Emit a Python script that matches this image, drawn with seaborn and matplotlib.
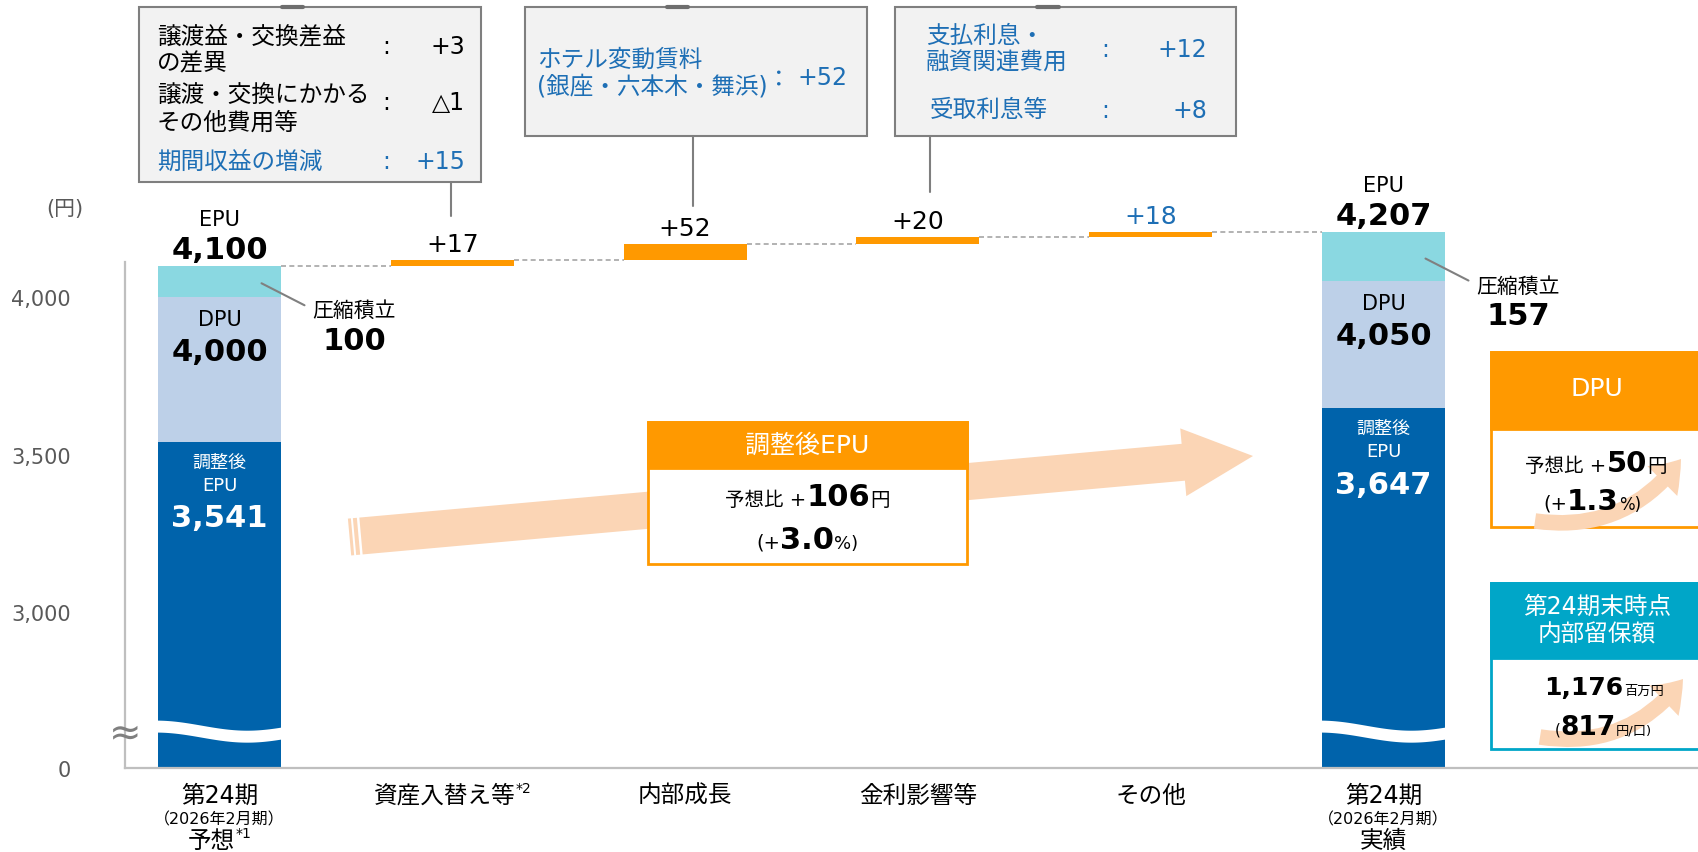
import numpy as np
import pandas as pd
import matplotlib
matplotlib.use("Agg")
import matplotlib.pyplot as plt
from matplotlib.patches import Rectangle, Polygon, FancyArrowPatch
import seaborn as sns

# ---------------- data ----------------
categories = ["第24期予想", "資産入替え等", "内部成長", "金利影響等", "その他", "第24期実績"]
category_titles = ["第24期", "資産入替え等", "内部成長", "金利影響等", "その他", "第24期"]
category_notes = ["*1", "*2", "", "", "", ""]
period_text = "（2026年2月期）"
end_bar_cats = ["第24期予想", "第24期実績"]
end_bar_kind = ["予想", "実績"]
epu_values = [4100, 4207]
dpu_values = [4000, 4050]
adj_epu_values = [3541, 3647]
reserve_values = [100, 157]
step_cats = ["資産入替え等", "内部成長", "金利影響等", "その他"]
step_values = [17, 52, 20, 18]
step_label_colors = ["black", "black", "black", "blue"]
ytick_values = [3000, 3500, 4000]

box1_items = [("譲渡益・交換差益\nの差異", "+3"),
              ("譲渡・交換にかかる\nその他費用等", "△1"),
              ("期間収益の増減", "+15")]
box2_items = [("ホテル変動賃料\n(銀座・六本木・舞浜)", "+52")]
box3_items = [("支払利息・\n融資関連費用", "+12"), ("受取利息等", "+8")]
adj_epu_diff, adj_epu_pct = 106, 3.0
dpu_diff, dpu_pct = 50, 1.3
retained_total, retained_per_unit = 1176, 817

# ---------------- style ----------------
W, H = 1698, 853
sns.set_theme(style="white")
plt.rcParams["font.family"] = ["DejaVu Sans", "Noto Sans CJK JP"]

DBLUE = "#0063AB"; LBLUE = "#BDD0E8"; CYAN = "#8AD8E1"; ORANGE = "#FF9900"
PEACH = "#FBD5B5"; TEAL = "#00A6C8"; TXTBLUE = "#1E6FB5"; GRAY = "#595959"
LINEGRAY = "#7F7F7F"; BOXFILL = "#F2F2F2"
colmap = {"black": "black", "blue": TXTBLUE}

fig = plt.figure(figsize=(W / 100, H / 100), dpi=100)
AX_L, AX_B = 125, 769
ax = fig.add_axes([AX_L / W, (H - AX_B) / H, (W - AX_L) / W, AX_B / H])
renderer = fig.canvas.get_renderer()

bw = 123 / 232.8
YLO, YHI = 2505, 4946

# stacked end bars (drawn as overlapping layers from 0)
df = pd.DataFrame({"cat": end_bar_cats, "epu": epu_values, "dpu": dpu_values, "adj": adj_epu_values})
for col, c in [("epu", CYAN), ("dpu", LBLUE), ("adj", DBLUE)]:
    sns.barplot(data=df, x="cat", y=col, order=categories, color=c, saturation=1,
                width=bw, errorbar=None, linewidth=0, ax=ax)

# waterfall steps
bottoms = np.cumsum([epu_values[0]] + step_values[:-1])
xs = [categories.index(c) for c in step_cats]
ax.bar(xs, step_values, bottom=bottoms, width=bw, color=ORANGE, linewidth=0, zorder=3)

levels = np.cumsum([epu_values[0]] + step_values)
for k, lv in enumerate(levels):
    ax.plot([k + bw / 2, k + 1 - bw / 2], [lv, lv], ls=(0, (3, 2)), color="#A6A6A6", lw=1.2, zorder=2)

ax.set_xlim(-0.406, 6.351)
ax.set_ylim(YLO, YHI)

# axis-break wave
t = np.linspace(0, 1, 80)
for cat in end_bar_cats:
    i = categories.index(cat)
    xx = i - bw / 2 - 0.01 + t * (bw + 0.02)
    c = 2622 + 16 * np.cos(2 * np.pi * 0.7 * t)
    ax.fill_between(xx, c - 19, c + 19, color="white", lw=0, zorder=5)

ax.set_yticks([YLO] + ytick_values)
ax.set_yticklabels(["0"] + [f"{v:,}" for v in ytick_values])
ax.tick_params(axis="y", length=0, pad=39, labelsize=15, labelcolor=GRAY)
ax.set_xticks([])
ax.set_xlabel(""); ax.set_ylabel("")
for s in ["top", "right"]:
    ax.spines[s].set_visible(False)
for s in ["left", "bottom"]:
    ax.spines[s].set_color("#BFBFBF")
    ax.spines[s].set_linewidth(1.6)
ax.spines["left"].set_bounds(YLO, 4110)


# ---------------- helpers ----------------
def P(x, y):
    return x / W, 1 - y / H


def dpx(x, y):
    X, Y = ax.transData.transform((x, y))
    return X, H - Y


def txt(x, y, s, size, color="black", weight="normal", ha="center", va="center", z=6, **kw):
    fx, fy = P(x, y)
    return fig.text(fx, fy, s, fontsize=size, color=color, fontweight=weight,
                    ha=ha, va=va, zorder=z, **kw)


def rich(xc, base, parts, z=6):
    objs, widths = [], []
    for p in parts:
        s, size = p[0], p[1]
        weight = p[2] if len(p) > 2 else "normal"
        color = p[3] if len(p) > 3 else "black"
        rise = p[4] if len(p) > 4 else 0
        tt = fig.text(0, 0, s, fontsize=size, fontweight=weight, color=color,
                      ha="left", va="baseline", zorder=z)
        widths.append(tt.get_window_extent(renderer).width)
        objs.append((tt, rise))
    x = xc - sum(widths) / 2
    for (tt, rise), w in zip(objs, widths):
        tt.set_position(P(x, base - rise))
        x += w


def rect(x0, y0, x1, y1, fc, ec="none", lw=0, z=2):
    r = Rectangle(P(x0, y1), (x1 - x0) / W, (y1 - y0) / H, transform=fig.transFigure,
                  fc=fc, ec=ec, lw=lw, zorder=z)
    fig.add_artist(r)


def line(x0, y0, x1, y1, color=LINEGRAY, lw=1.5, z=2):
    fig.add_artist(plt.Line2D([x0 / W, x1 / W], [1 - y0 / H, 1 - y1 / H],
                              transform=fig.transFigure, color=color, lw=lw, zorder=z))


# ---------------- bar labels ----------------
for k, cat in enumerate(end_bar_cats):
    i = categories.index(cat)
    cx, top = dpx(i, epu_values[k])
    txt(cx, top - 47, "EPU", 15)
    txt(cx, top - 16, f"{epu_values[k]:,}", 22, weight="bold")
    _, dtop = dpx(i, dpu_values[k])
    txt(cx, dtop + 22, "DPU", 15)
    txt(cx, dtop + 54, f"{dpu_values[k]:,}", 22, weight="bold")
    _, atop = dpx(i, adj_epu_values[k])
    txt(cx, atop + 20, "調整後", 13, color="white")
    txt(cx, atop + 43, "EPU", 13, color="white")
    txt(cx, atop + 76, f"{adj_epu_values[k]:,}", 22, weight="bold", color="white")
    _, segc = dpx(i, epu_values[k] - reserve_values[k] / 2)
    line(cx + 42, segc + 2, cx + 85, segc + 24, color="#808080", lw=1.5, z=3)
    txt(cx + 135, segc + 29, "圧縮積立", 15)
    txt(cx + 135, segc + 59, f"{reserve_values[k]}", 22, weight="bold")

for x, b, v, c in zip(xs, bottoms, step_values, step_label_colors):
    cx, top = dpx(x, b + v)
    txt(cx, top - 16, f"+{v}", 18, color=colmap[c])

# ---------------- category labels ----------------
for i, (title, note) in enumerate(zip(category_titles, category_notes)):
    cx, _ = dpx(i, YLO)
    if categories[i] in end_bar_cats:
        k = end_bar_cats.index(categories[i])
        rich(cx, 803, [(title, 17)])
        txt(cx, 820, period_text, 11.5)
        parts = [(end_bar_kind[k], 17)]
        if note:
            parts.append((note, 10, "normal", "black", 10))
        rich(cx, 848, parts)
    else:
        parts = [(title, 17)]
        if note:
            parts.append((note, 10, "normal", "black", 10))
        rich(cx, 803, parts)

txt(65, 209, "(円)", 15, color=GRAY)
txt(125, 733, "≈", 28, color=LINEGRAY, z=7)

# ---------------- callout boxes ----------------
rect(139, 8, 481, 183, BOXFILL, LINEGRAY, 1.5)
rect(525, 8, 867, 137, BOXFILL, LINEGRAY, 1.5)
rect(895, 8, 1236, 137, BOXFILL, LINEGRAY, 1.5)
for a, b in [(282, 303), (667, 688), (1037, 1059)]:
    line(a, 8, b, 8, color="#6E6E6E", lw=3, z=3)
line(451, 183, 451, 217)
line(693, 137, 693, 207)
line(930, 137, 930, 193)

b1_y = [(49.5, 47), (109, 103), (162, 162)]
b1_col = ["black", "black", TXTBLUE]
for (lab, val), (ly, vy), col in zip(box1_items, b1_y, b1_col):
    txt(157, ly, lab, 17, color=col, ha="left", linespacing=1.15)
    txt(386, vy, ":", 17, color=col)
    txt(465, vy, val, 17, color=col, ha="right")

for lab, val in box2_items:
    txt(537, 73.5, lab, 17, color=TXTBLUE, ha="left", linespacing=1.15)
    txt(779, 80, "：", 17, color=TXTBLUE)
    txt(848, 78, val, 17, color=TXTBLUE, ha="right")

b3 = [(926, 49, 50), (930, 110, 111)]
for (lab, val), (lx, ly, vy) in zip(box3_items, b3):
    txt(lx, ly, lab, 17, color=TXTBLUE, ha="left", linespacing=1.15)
    txt(1105, vy, ":", 17, color=TXTBLUE)
    txt(1207, vy, val, 17, color=TXTBLUE, ha="right")

# ---------------- big arrow ----------------
tail = np.array([361.0, 537.0]); tip = np.array([1253.0, 457.0])
u = (tip - tail) / np.linalg.norm(tip - tail)
n = np.array([-u[1], u[0]])
hb = tip - u * 70
pts = [tail - n * 18.5, hb - n * 18.5, hb - n * 34, tip, hb + n * 34, hb + n * 18.5, tail + n * 18.5]
fig.add_artist(Polygon([P(*p) for p in pts], closed=True, transform=fig.transFigure,
                       fc=PEACH, ec="none", zorder=1))
for a, b in [(-6.5, -2.5), (-11.5, -8.5)]:
    sp = [tail + u * a - n * 18.5, tail + u * b - n * 18.5, tail + u * b + n * 18.5, tail + u * a + n * 18.5]
    fig.add_artist(Polygon([P(*p) for p in sp], closed=True, transform=fig.transFigure,
                           fc=PEACH, ec="none", zorder=1))

# ---------------- adjusted EPU box ----------------
rect(648, 423, 967, 565, "white", ORANGE, 2, z=2)
rect(648, 423, 967, 469, ORANGE, ORANGE, 2, z=2)
txt(807, 446, "調整後EPU", 18, color="white")
rich(807, 506, [("予想比 +", 14), (f"{adj_epu_diff}", 22, "bold"), ("円", 14)])
rich(807, 549, [("(+", 14), (f"{adj_epu_pct:.1f}", 22, "bold"), ("%)", 13)])

# ---------------- DPU box ----------------
rect(1491, 353, 1710, 528, "white", ORANGE, 2, z=2)
rect(1491, 353, 1710, 430, ORANGE, ORANGE, 2, z=2)
fig.add_artist(FancyArrowPatch(P(1535, 522), P(1681, 460), transform=fig.transFigure,
                               arrowstyle="simple,head_width=1.9,head_length=1.3,tail_width=0.7",
                               connectionstyle="arc3,rad=0.3", mutation_scale=16,
                               fc=PEACH, ec="none", shrinkA=0, shrinkB=0, zorder=3))
txt(1597, 389, "DPU", 18, color="white")
rich(1596, 472, [("予想比 +", 14), (f"{dpu_diff}", 21, "bold"), ("円", 14)])
rich(1592, 510, [("(+", 14), (f"{dpu_pct:.1f}", 21, "bold"), ("%)", 12)])

# ---------------- retained earnings box ----------------
rect(1491, 584, 1710, 750, "white", TEAL, 2, z=2)
rect(1491, 584, 1710, 659, TEAL, TEAL, 2, z=2)
fig.add_artist(FancyArrowPatch(P(1540, 738), P(1683, 680), transform=fig.transFigure,
                               arrowstyle="simple,head_width=1.9,head_length=1.3,tail_width=0.7",
                               connectionstyle="arc3,rad=0.3", mutation_scale=16,
                               fc=PEACH, ec="none", shrinkA=0, shrinkB=0, zorder=3))
txt(1597, 607, "第24期末時点", 17, color="white")
txt(1597, 635, "内部留保額", 17, color="white")
rich(1604, 695, [(f"{retained_total:,}", 18, "bold"), ("百万円", 9.5)])
rich(1603, 735, [("(", 11), (f"{retained_per_unit}", 19, "bold"), ("円/口)", 9.5)])

fig.savefig("out.png", dpi=100)
